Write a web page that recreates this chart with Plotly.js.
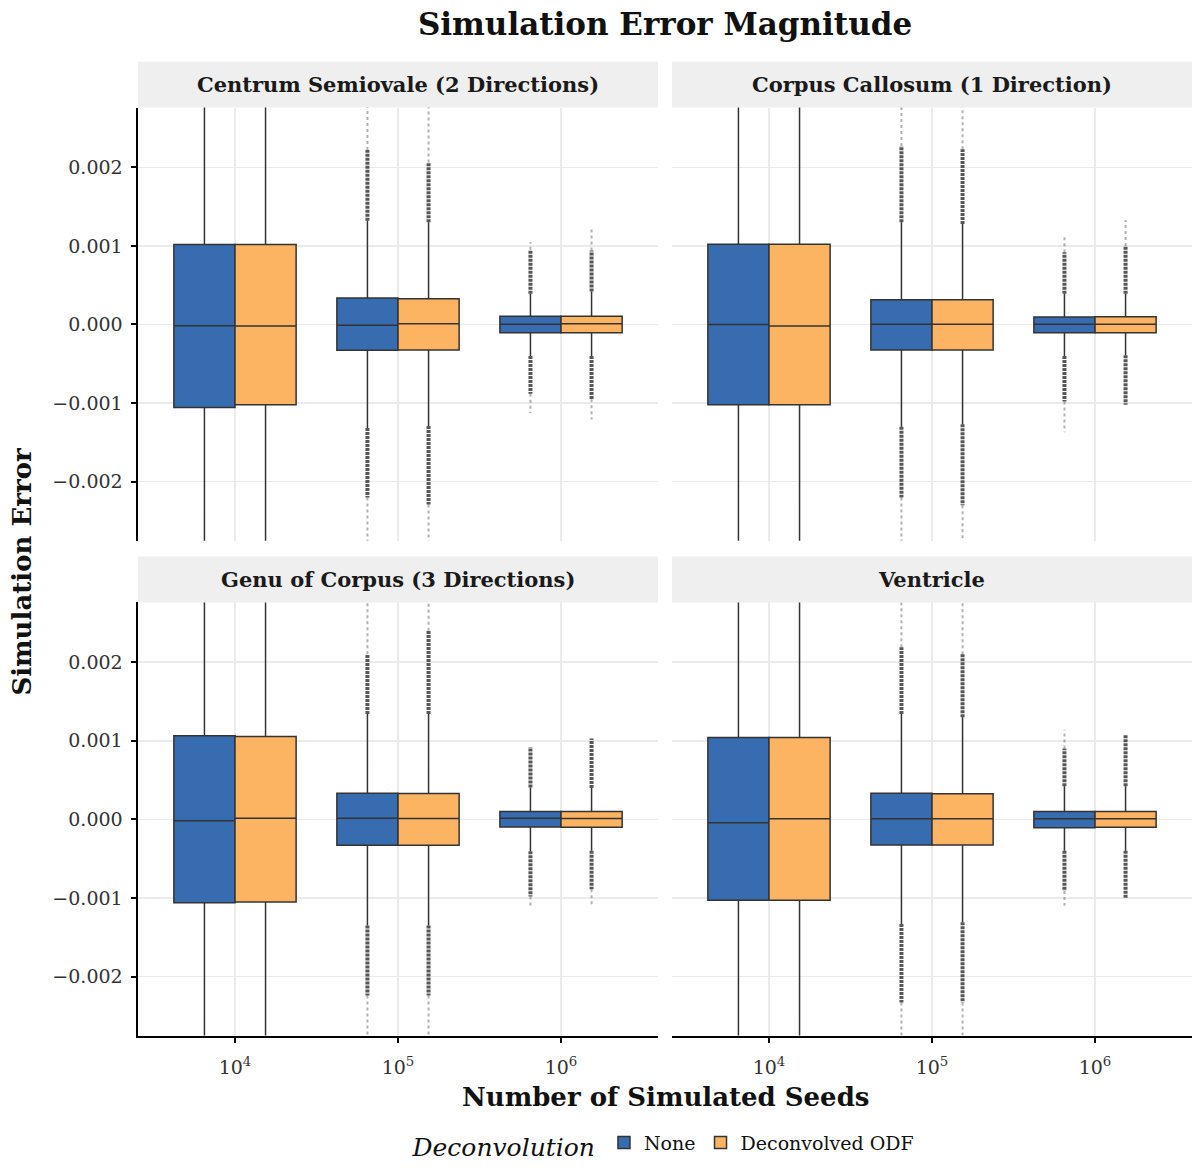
<!DOCTYPE html>
<html>
<head>
<meta charset="utf-8">
<script src="https://cdn.plot.ly/plotly-3.0.1.min.js"></script>
<style>html,body{margin:0;padding:0;background:#fff}#chart{width:1196px;height:1167px}</style>
</head>
<body>
<div id="chart"></div>
<script>
// ---------- DATA ----------
const seeds = ['10<sup>4</sup>', '10<sup>5</sup>', '10<sup>6</sup>'];
const panelNames = ['Centrum Semiovale (2 Directions)', 'Corpus Callosum (1 Direction)', 'Genu of Corpus (3 Directions)', 'Ventricle'];
const seriesNames = ['None', 'Deconvolved ODF'];
const seriesColors = ['#386CB0', '#FDB462'];

// indexed [panel][series][seed]
const q3 = [
  [[0.001017, 0.000338, 0.000105], [0.001017, 0.000329, 0.000105]],
  [[0.001020, 0.000316, 0.000097], [0.001020, 0.000316, 0.000100]],
  [[0.001063, 0.000333, 0.000101], [0.001055, 0.000330, 0.000100]],
  [[0.001040, 0.000333, 0.000100], [0.001040, 0.000325, 0.000100]]
];
const median = [
  [[-0.000017, -0.000010, 0.000004], [-0.000020, 0.000010, 0.000009]],
  [[0.000000, 0.000004, 0.000004], [-0.000020, 0.000004, 0.000004]],
  [[-0.000017, 0.000013, 0.000013], [0.000013, 0.000010, 0.000010]],
  [[-0.000042, 0.000008, 0.000008], [0.000008, 0.000008, 0.000008]]
];
const q1 = [
  [[-0.001055, -0.000329, -0.000105], [-0.001020, -0.000325, -0.000105]],
  [[-0.001020, -0.000325, -0.000105], [-0.001020, -0.000325, -0.000105]],
  [[-0.001060, -0.000329, -0.000097], [-0.001050, -0.000330, -0.000100]],
  [[-0.001030, -0.000325, -0.000105], [-0.001030, -0.000325, -0.000100]]
];
const whiskerHi = [
  [[0.0032, 0.00132, 0.00039], [0.0032, 0.00130, 0.00042]],
  [[0.0032, 0.00130, 0.00039], [0.0032, 0.00128, 0.00039]],
  [[0.0032, 0.00134, 0.000405], [0.0032, 0.00134, 0.00040]],
  [[0.0032, 0.00134, 0.00042], [0.0032, 0.00130, 0.00042]]
];
const whiskerLo = [
  [[-0.0032, -0.001316, -0.00040], [-0.0032, -0.00129, -0.00040]],
  [[-0.0032, -0.00130, -0.00040], [-0.0032, -0.00127, -0.00039]],
  [[-0.0032, -0.00135, -0.000405], [-0.0032, -0.00135, -0.00040]],
  [[-0.0032, -0.00133, -0.00040], [-0.0032, -0.00131, -0.00040]]
];
// outlier clouds: dense part and furthest sparse outlier
const outHiDense = [
  [[null, 0.00222, 0.00095], [null, 0.00206, 0.00094]],
  [[null, 0.00227, 0.00092], [null, 0.00223, 0.00100]],
  [[null, 0.00210, 0.00092], [null, 0.00240, 0.00103]],
  [[null, 0.00219, 0.00090], [null, 0.00210, 0.00107]]
];
const outHiMax = [
  [[null, 0.0029, 0.00105], [null, 0.0029, 0.00121]],
  [[null, 0.0029, 0.00113], [null, 0.0029, 0.00133]],
  [[null, 0.0029, 0.00092], [null, 0.0029, 0.00103]],
  [[null, 0.0029, 0.00114], [null, 0.0029, 0.00107]]
];
const outLoDense = [
  [[null, -0.00220, -0.00088], [null, -0.00229, -0.00095]],
  [[null, -0.00220, -0.00098], [null, -0.00230, -0.00102]],
  [[null, -0.00224, -0.00098], [null, -0.00224, -0.00089]],
  [[null, -0.00233, -0.00091], [null, -0.00233, -0.00100]]
];
const outLoMin = [
  [[null, -0.0029, -0.00113], [null, -0.0029, -0.00121]],
  [[null, -0.0029, -0.00137], [null, -0.0029, -0.00102]],
  [[null, -0.0029, -0.00111], [null, -0.0029, -0.00109]],
  [[null, -0.0029, -0.00110], [null, -0.0029, -0.00100]]
];

// ---------- LAYOUT GEOMETRY ----------
const W = 1196, H = 1167;
const FONT = 'DejaVu Serif';
const px = v => v / W;
const py = v => 1 - v / H;
const colDom = [[px(138), px(658)], [px(672), px(1192)]];
const rowDom = [[py(543), py(108)], [py(1040), py(605)]];
const stripTop = [62, 559];
const stripBot = [108, 605];

const traces = [];
const layout = {
  width: W, height: H,
  margin: {l: 0, r: 0, t: 0, b: 0},
  paper_bgcolor: '#fff', plot_bgcolor: '#fff',
  font: {family: FONT, color: '#222', size: 19},
  boxmode: 'group', boxgap: 0.25, boxgroupgap: 0,
  scattermode: 'group', scattergap: 0.25,
  showlegend: true,
  title: {text: 'Simulation Error Magnitude', x: 665 / W, xanchor: 'center', xref: 'paper',
          y: py(24), yanchor: 'middle', yref: 'paper',
          font: {family: FONT, size: 31, weight: 'bold', color: '#111'}},
  legend: {orientation: 'h', x: 665 / W, xanchor: 'center', y: py(1150), yanchor: 'middle',
           title: {text: '<i>Deconvolution</i>', side: 'left', font: {family: FONT, size: 25, color: '#111'}},
           font: {family: FONT, size: 19, color: '#111'}, itemwidth: 30, tracegroupgap: 0,
           bgcolor: 'rgba(0,0,0,0)'},
  shapes: [], annotations: []
};

for (let p = 0; p < 4; p++) {
  const r = Math.floor(p / 2), c = p % 2;
  const n = p === 0 ? '' : String(p + 1);
  const xa = 'x' + n, ya = 'y' + n;
  const isLeft = c === 0, isBottom = r === 1;
  layout['xaxis' + n] = {
    domain: colDom[c], anchor: ya, type: 'category', categoryorder: 'array', categoryarray: seeds,
    range: [-0.595, 2.595], fixedrange: true,
    showgrid: true, gridcolor: '#EBEBEB', gridwidth: 1.5, zeroline: false,
    showline: isBottom, linecolor: '#000', linewidth: 2,
    ticks: isBottom ? 'outside' : '', ticklen: 5, tickwidth: 2, tickcolor: '#000',
    ticklabelstandoff: 9,
    showticklabels: isBottom, tickfont: {family: FONT, size: 19, color: '#333'}
  };
  layout['yaxis' + n] = {
    domain: rowDom[r], anchor: xa, range: [-0.00275, 0.00276], fixedrange: true,
    dtick: 0.001, tick0: 0, tickformat: '.3f',
    showgrid: true, gridcolor: '#EBEBEB', gridwidth: 1.5, zeroline: false,
    showline: isLeft, linecolor: '#000', linewidth: 2.5,
    ticks: isLeft ? 'outside' : '', ticklen: 5, tickwidth: 2, tickcolor: '#000',
    ticklabelstandoff: 4,
    showticklabels: isLeft, tickfont: {family: FONT, size: 19, color: '#333'}
  };
  // strip header
  layout.shapes.push({type: 'rect', xref: 'paper', yref: 'paper',
    x0: colDom[c][0], x1: colDom[c][1], y0: py(stripBot[r]), y1: py(stripTop[r]),
    fillcolor: '#EFEFEF', line: {width: 0}, layer: 'below'});
  layout.annotations.push({xref: 'paper', yref: 'paper', x: (colDom[c][0] + colDom[c][1]) / 2,
    y: py((stripTop[r] + stripBot[r]) / 2), xanchor: 'center', yanchor: 'middle', showarrow: false,
    text: panelNames[p], font: {family: FONT, size: 21, weight: 'bold', color: '#1a1a1a'}});

  for (let s = 0; s < 2; s++) {
    traces.push({
      type: 'box', name: seriesNames[s], legendgroup: seriesNames[s], showlegend: p === 0,
      offsetgroup: seriesNames[s], xaxis: xa, yaxis: ya,
      x: seeds, q1: q1[p][s], median: median[p][s], q3: q3[p][s],
      lowerfence: whiskerLo[p][s], upperfence: whiskerHi[p][s],
      boxpoints: false, whiskerwidth: 0,
      fillcolor: seriesColors[s], line: {color: '#333', width: 1.5},
      hoverinfo: 'skip'
    });
    // outlier clouds
    const dx = [], dy = [], sx = [], sy = [];
    for (let k = 0; k < seeds.length; k++) {
      if (outHiDense[p][s][k] === null) continue;
      dx.push(seeds[k], seeds[k], seeds[k]); dy.push(whiskerHi[p][s][k], outHiDense[p][s][k], null);
      dx.push(seeds[k], seeds[k], seeds[k]); dy.push(whiskerLo[p][s][k], outLoDense[p][s][k], null);
      sx.push(seeds[k], seeds[k], seeds[k]); sy.push(outHiDense[p][s][k], outHiMax[p][s][k], null);
      sx.push(seeds[k], seeds[k], seeds[k]); sy.push(outLoDense[p][s][k], outLoMin[p][s][k], null);
    }
    traces.push({type: 'scatter', mode: 'lines', x: dx, y: dy, xaxis: xa, yaxis: ya,
      offsetgroup: seriesNames[s], showlegend: false, hoverinfo: 'skip', connectgaps: false,
      line: {color: 'rgba(45,45,45,0.8)', width: 4, dash: '3px,1px'}});
    traces.push({type: 'scatter', mode: 'lines', x: sx, y: sy, xaxis: xa, yaxis: ya,
      offsetgroup: seriesNames[s], showlegend: false, hoverinfo: 'skip', connectgaps: false,
      line: {color: 'rgba(60,60,60,0.4)', width: 2, dash: 'dot'}});
  }
}

layout.annotations.push({xref: 'paper', yref: 'paper', x: 665 / W, y: py(1102), xanchor: 'center', yanchor: 'middle',
  showarrow: false, text: 'Number of Simulated Seeds', font: {family: FONT, size: 26, weight: 'bold', color: '#111'}});
layout.annotations.push({xref: 'paper', yref: 'paper', x: px(22), y: py(574), xanchor: 'center', yanchor: 'middle',
  showarrow: false, textangle: -90, text: 'Simulation Error', font: {family: FONT, size: 26, weight: 'bold', color: '#111'}});

Plotly.newPlot('chart', traces, layout, {staticPlot: true, displayModeBar: false});
</script>
</body>
</html>
